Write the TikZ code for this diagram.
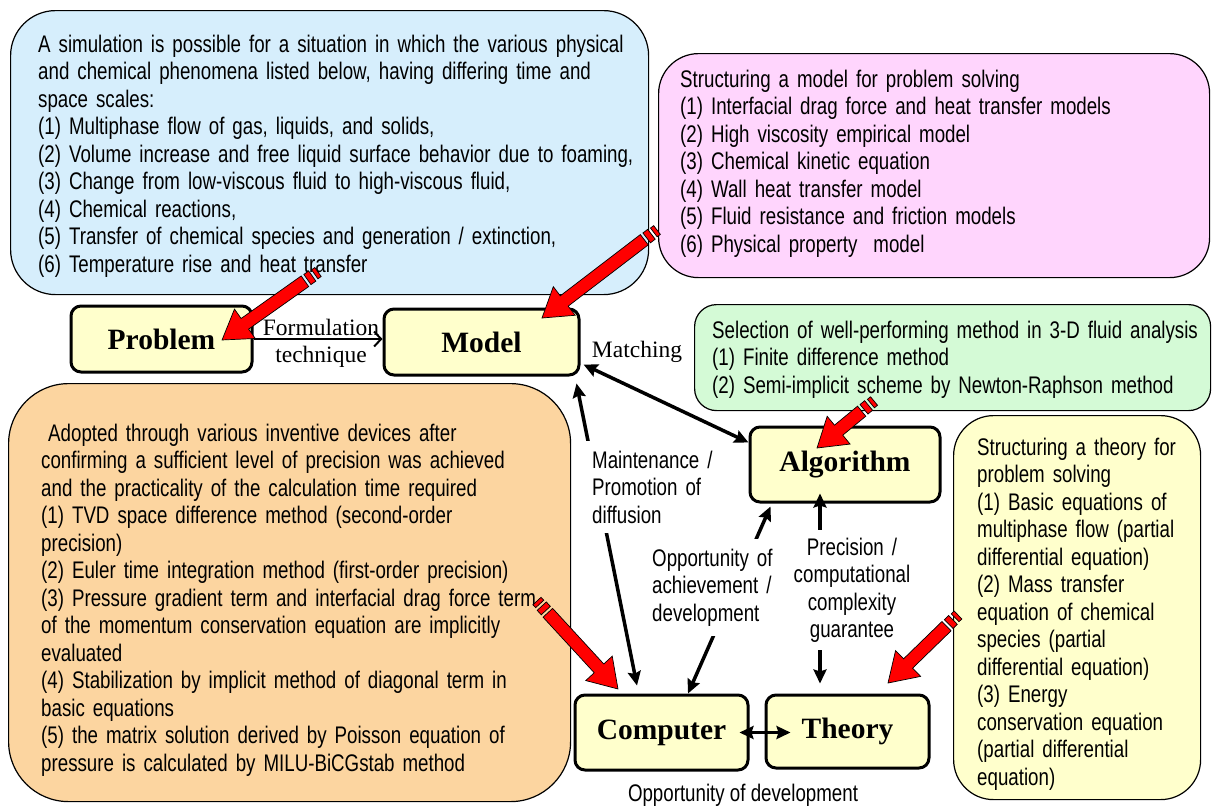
\documentclass[tikz,border=0pt]{standalone}
\usepackage{fontspec}
\setmainfont[FakeStretch=0.78]{Liberation Sans}
\newfontfamily\seriffam{Liberation Serif}
\usetikzlibrary{arrows.meta,calc}

\definecolor{panelblue}{RGB}{214,238,252}
\definecolor{panelpink}{RGB}{255,213,253}
\definecolor{panelgreen}{RGB}{212,250,214}
\definecolor{panelorange}{RGB}{252,213,160}
\definecolor{boxyellow}{RGB}{255,255,204}

\newcommand\bodyfont{\fontsize{24}{27.5}\selectfont}
\newcommand\keyfont{\seriffam\bfseries\fontsize{29.5}{32}\selectfont}
\newcommand\edgefont{\seriffam\fontsize{23.5}{27}\selectfont}

% thick red "pencil" arrow from a tail coordinate to a tip coordinate
\makeatletter
\newcommand\fatarrow[2]{%
  \pgfmathanglebetweenpoints{\pgfpointanchor{#1}{center}}{\pgfpointanchor{#2}{center}}%
  \edef\fa@ang{\pgfmathresult}%
  \pgfpointdiff{\pgfpointanchor{#1}{center}}{\pgfpointanchor{#2}{center}}%
  \pgfmathveclen{\pgf@x}{\pgf@y}%
  \edef\fa@len{\pgfmathresult}%
  \begin{scope}[shift={(#1)}, rotate=\fa@ang, x=1pt, y=1pt]
    \filldraw[pencil] (0,-5.5) rectangle (4,5.5);
    \filldraw[pencil] (7,-6.2) rectangle (13,6.2);
    \filldraw[pencil] (16,-6.5) -- (\fa@len-28,-6.5) -- (\fa@len-28,-18)
      -- (\fa@len,0) -- (\fa@len-28,18) -- (\fa@len-28,6.5) -- (16,6.5) -- cycle;
  \end{scope}}
\makeatother

\tikzset{
  keybox/.style={draw, line width=3pt, rounded corners=10pt, fill=boxyellow,
    font=\keyfont, inner sep=0pt},
  panel/.style={draw, line width=1.2pt, inner sep=0pt, anchor=north west},
  body/.style={font=\bodyfont, text width=#1, align=left, inner sep=0pt, anchor=base west},
  link/.style={line width=3.5pt,
    {Stealth[length=14pt,width=13pt,inset=2pt]}-{Stealth[length=14pt,width=13pt,inset=2pt]}},
  linklabel/.style={font=\bodyfont, fill=white},
  pencil/.style={fill=red, draw=black, line width=0.7pt},
}

\begin{document}
\begin{tikzpicture}[x=1pt, y=-1pt]
\useasboundingbox (0,0) rectangle (1212,807);
\fill[white] (0,0) rectangle (1212,807);

% text panels
\node[panel, fill=panelblue, minimum width=638pt, minimum height=284pt, rounded corners=45pt]
  (phenomena) at (10,10) {};
\node[body=630pt] (phenomenatext) at (38,52) {%
A simulation is possible for a situation in which the various physical\\
and chemical phenomena listed below, having differing time and\\
space scales:\\
(1) Multiphase flow of gas, liquids, and solids,\\
(2) Volume increase and free liquid surface behavior due to foaming,\\
(3) Change from low-viscous fluid to high-viscous fluid,\\
(4) Chemical reactions,\\
(5) Transfer of chemical species and generation / extinction,\\
(6) Temperature rise and heat transfer};

\node[panel, fill=panelpink, minimum width=551pt, minimum height=224pt, rounded corners=40pt]
  (models) at (658,53) {};
\node[body=520pt] (modelstext) at (680,87) {%
Structuring a model for problem solving\\
(1) Interfacial drag force and heat transfer models\\
(2) High viscosity empirical model\\
(3) Chemical kinetic equation\\
(4) Wall heat transfer model\\
(5) Fluid resistance and friction models\\
(6) Physical property\ \ model};

\node[panel, fill=panelgreen, minimum width=516pt, minimum height=106pt, rounded corners=22pt]
  (methods) at (694,304) {};
\node[body=500pt] (methodstext) at (712,338) {%
Selection of well-performing method in 3-D fluid analysis\\
(1) Finite difference method\\
(2) Semi-implicit scheme by Newton-Raphson method};

\node[panel, fill=panelorange, minimum width=562pt, minimum height=418pt, rounded corners=60pt]
  (devices) at (8,383) {};
\node[body=540pt] (devicestext) at (41,441) {%
\hspace*{7pt}Adopted through various inventive devices after\\
confirming a sufficient level of precision was achieved\\
and the practicality of the calculation time required\\
(1) TVD space difference method (second-order\\
precision)\\
(2) Euler time integration method (first-order precision)\\
(3) Pressure gradient term and interfacial drag force term\\
of the momentum conservation equation are implicitly\\
evaluated\\
(4) Stabilization by implicit method of diagonal term in\\
basic equations\\
(5) the matrix solution derived by Poisson equation of\\
pressure is calculated by MILU-BiCGstab method};

\node[panel, fill=boxyellow, minimum width=247pt, minimum height=384pt, rounded corners=40pt]
  (theories) at (953,415) {};
\node[body=220pt] (theoriestext) at (977,455) {%
Structuring a theory for\\
problem solving\\
(1) Basic equations of\\
multiphase flow (partial\\
differential equation)\\
(2) Mass transfer\\
equation of chemical\\
species (partial\\
differential equation)\\
(3) Energy\\
conservation equation\\
(partial differential\\
equation)};

% key boxes
\node[keybox, minimum width=181pt, minimum height=66pt] (problem) at (161.5,339) {Problem};
\node[keybox, minimum width=195pt, minimum height=66pt] (model) at (481.5,342) {Model};
\node[keybox, minimum width=190pt, minimum height=75pt] (algorithm) at (845,464.5) {Algorithm};
\node[keybox, minimum width=173pt, minimum height=75pt] (computer) at (661.5,732.5) {Computer};
\node[keybox, minimum width=163pt, minimum height=73pt] (theory) at (847.5,731.5) {Theory};

% connectors
\draw[line width=2pt, -{Straight Barb[length=7pt,width=15pt]}]
  (problem.east) -- (problem.east -| model.west);
\node[font=\edgefont, align=center] (formulation) at (321,343) {Formulation\\technique};

\draw[link] ([xshift=3pt,yshift=12pt]model.south east) -- ([yshift=-17pt]algorithm.north west);
\node[font=\edgefont] (matching) at (637,352) {Matching};

\draw[link] ([xshift=-24.5pt,yshift=8pt]computer.north) -- ([xshift=-4pt,yshift=-7pt]model.south east);
\node[linklabel, text width=125pt, align=left, inner xsep=12pt, inner ysep=10pt, anchor=base west]
  (maintenance) at (580,468) {Maintenance /\\Promotion of\\diffusion};

\draw[link] ([xshift=26.5pt]computer.north) -- ([xshift=22pt,yshift=-3pt]algorithm.south west);
\node[linklabel, text width=125pt, align=left, inner xsep=8pt, inner ysep=10pt, anchor=base west]
  (achievement) at (644,566) {Opportunity of\\achievement /\\development};

\draw[link] ([xshift=-27.5pt,yshift=10pt]theory.north) -- ([xshift=-27.5pt,yshift=10pt]theory.north |- algorithm.south);
\node[linklabel, text width=124pt, align=center, inner xsep=4pt, inner ysep=8pt, anchor=base]
  (precision) at (852,555) {Precision /\\computational\\complexity\\guarantee};

\draw[link] ([xshift=-10pt]computer.east) -- ([xshift=26pt]theory.west |- computer.east);
\node[font=\bodyfont] (development) at (743,795) {Opportunity of development};

% red pencil arrows
\coordinate (p1) at (318,272);  \coordinate (q1) at (222,340);
\coordinate (p2) at (657,230);  \coordinate (q2) at (542,318);
\coordinate (p3) at (874,401);  \coordinate (q3) at (817,448);
\coordinate (p4) at (537,601);  \coordinate (q4) at (618,689);
\coordinate (p5) at (958,615);  \coordinate (q5) at (888,683);
\fatarrow{p1}{q1}
\fatarrow{p2}{q2}
\fatarrow{p3}{q3}
\fatarrow{p4}{q4}
\fatarrow{p5}{q5}
\end{tikzpicture}
\end{document}
